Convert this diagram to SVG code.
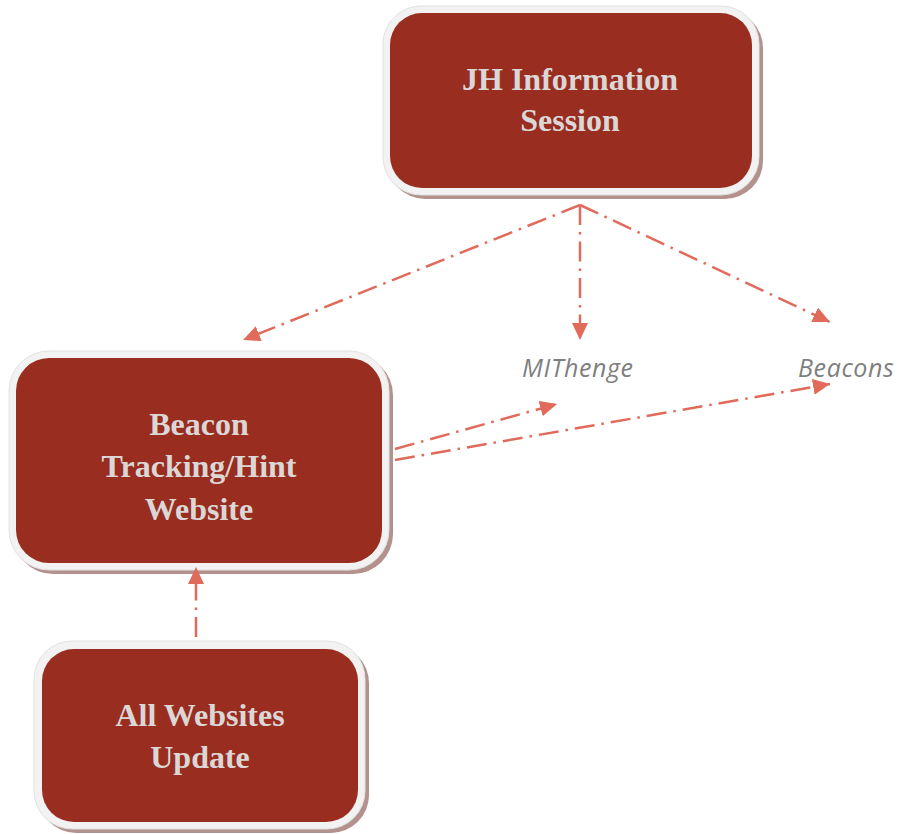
<svg xmlns="http://www.w3.org/2000/svg" width="903" height="834" viewBox="0 0 903 834">
<style>
.sh{fill:#b3918d}
.bd{fill:#f2f2f2;stroke:#e2e2e2;stroke-width:1}
.in{fill:#992d1f}
.t{font-family:"Liberation Serif","DejaVu Serif",serif;font-weight:bold;font-size:32px;fill:#dbd7d7;text-anchor:middle}
.lb{font-family:"Open Sans","Liberation Sans",sans-serif;font-style:italic;font-size:25px;letter-spacing:0.6px;fill:#7f7f7f}
.c{fill:none;stroke:#e06b5b;stroke-width:2.5;stroke-dasharray:20 7 2.5 7}
</style>
<defs>
<marker id="ah" markerUnits="userSpaceOnUse" markerWidth="18" markerHeight="16" refX="17" refY="8" orient="auto">
<path d="M0,0 L17,8 L0,16 Z" fill="#e06b5b"/>
</marker>
</defs>
<g id="node-jh">
<rect class="sh" x="387" y="10" width="376" height="189" rx="38"/>
<rect class="bd" x="383" y="6" width="376" height="189" rx="38"/>
<rect class="in" x="390" y="13" width="362" height="175" rx="32"/>
<text class="t" x="570" y="90">JH Information</text>
<text class="t" x="570" y="131">Session</text>
</g>
<g id="node-beacon">
<rect class="sh" x="13" y="355" width="380" height="219" rx="40"/>
<rect class="bd" x="9" y="351" width="380" height="219" rx="40"/>
<rect class="in" x="16" y="358" width="366" height="205" rx="33"/>
<text class="t" x="199" y="435">Beacon</text>
<text class="t" x="199" y="477">Tracking/Hint</text>
<text class="t" x="199" y="520">Website</text>
</g>
<g id="node-all">
<rect class="sh" x="38" y="645" width="331" height="188" rx="38"/>
<rect class="bd" x="34" y="641" width="331" height="188" rx="38"/>
<rect class="in" x="42" y="649" width="316" height="173" rx="32"/>
<text class="t" x="200" y="726">All Websites</text>
<text class="t" x="200" y="768">Update</text>
</g>
<g id="label-mithenge"><text class="lb" x="522" y="377">MIThenge</text></g>
<g id="label-beacons"><text class="lb" x="798" y="377">Beacons</text></g>
<g id="connectors">
<path class="c" d="M580,205 L243,340" marker-end="url(#ah)"/>
<path class="c" d="M580,205 L580,340" marker-end="url(#ah)"/>
<path class="c" d="M580,205 L830,322" marker-end="url(#ah)"/>
<path class="c" d="M395,449 L557,404" marker-end="url(#ah)"/>
<path class="c" d="M395,460 L830,384" marker-end="url(#ah)"/>
<path class="c" d="M196,637 L196,567" marker-end="url(#ah)"/>
</g>
</svg>
